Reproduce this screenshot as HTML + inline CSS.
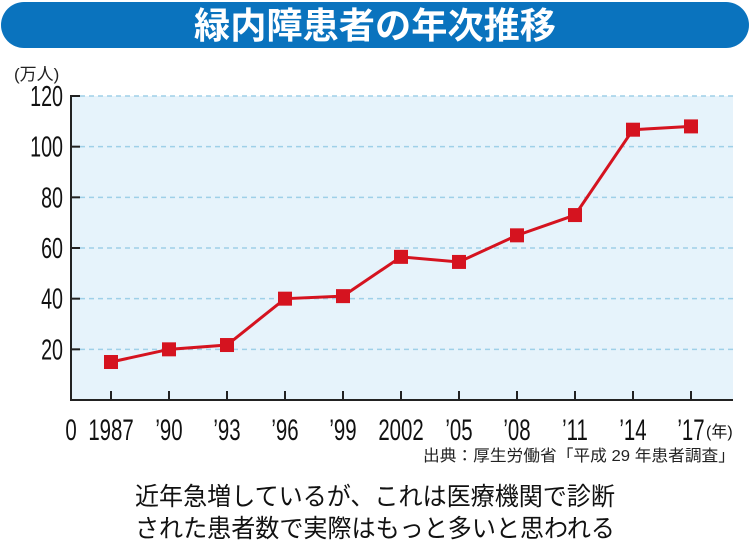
<!DOCTYPE html>
<html><head><meta charset="utf-8"><style>
body{margin:0;background:#fff;}
svg{display:block;font-family:"Liberation Sans","Noto Sans CJK JP",sans-serif;}
</style></head><body>
<svg id="c" width="750" height="543" viewBox="0 0 750 543" xmlns="http://www.w3.org/2000/svg">
<rect x="1" y="2" width="748" height="46" rx="23" fill="#0a73be"/>
<text x="375" y="38" text-anchor="middle" font-size="36" font-weight="bold" fill="#fff" textLength="362" lengthAdjust="spacingAndGlyphs">緑内障患者の年次推移</text>
<text x="14" y="80" font-size="17" fill="#222">(万人)</text>
<rect x="71" y="96" width="662" height="304" fill="#e6f3fb"/>
<g id="grid"></g><g id="axes"></g><g id="line"></g>
<text x="735" y="461" text-anchor="end" font-size="16" fill="#222" textLength="312" lengthAdjust="spacingAndGlyphs">出典：厚生労働省「平成 29 年患者調査」</text>
<text x="375" y="505" text-anchor="middle" font-size="25" fill="#111" textLength="480" lengthAdjust="spacingAndGlyphs">近年急増しているが、これは医療機関で診断</text>
<text x="375" y="537" text-anchor="middle" font-size="25" fill="#111" textLength="480" lengthAdjust="spacingAndGlyphs">された患者数で実際はもっと多いと思われる</text>
</svg>
<script>
const categories=["1987","’90","’93","’96","’99","2002","’05","’08","’11","’14","’17"];
const values=[15,20,21.7,40,41,56.5,54.5,65,73,106.7,108];
const yTicks=[20,40,60,80,100,120];
const NS="http://www.w3.org/2000/svg";
const x0=111,dx=58,yBase=400,yTop=96,yMax=120;
function xs(i){return x0+i*dx;}
function ys(v){return yBase-(v/yMax)*(yBase-yTop);}
function mk(t,a,p){const e=document.createElementNS(NS,t);for(const k in a)e.setAttribute(k,a[k]);p.appendChild(e);return e;}
const grid=document.getElementById('grid'),axes=document.getElementById('axes'),line=document.getElementById('line');
yTicks.forEach(v=>{
const g=mk('line',{x1:71,x2:733,y1:ys(v),y2:ys(v),stroke:'#9fd0e8','stroke-width':1.5,'stroke-dasharray':'5,4'},grid);


const t=mk('line',{x1:71,x2:80,y1:ys(v),y2:ys(v),stroke:'#222','stroke-width':2},axes);


const l=mk('text',{x:0,y:0,'text-anchor':'end','font-size':29,fill:'#111',transform:`translate(63,${ys(v)+10}) scale(0.68,1)`},axes);
l.textContent=v;


});
const ya=mk('polyline',{points:`80,96 71,96 71,400 733,400`,fill:'none',stroke:'#222','stroke-width':2},axes);


const z=mk('text',{x:0,y:0,'text-anchor':'middle','font-size':30,fill:'#111',transform:`translate(71,440) scale(0.68,1)`},axes);
z.textContent='0';


categories.forEach((c,i)=>{
const t=mk('line',{x1:xs(i),x2:xs(i),y1:391,y2:400,stroke:'#222','stroke-width':2},axes);


const l=mk('text',{x:0,y:0,'text-anchor':'middle','font-size':30,fill:'#111',transform:`translate(${xs(i)},440) scale(0.68,1)`},axes);
l.textContent=c;


});
const yr=mk('text',{x:706,y:437,'font-size':16,fill:'#111'},axes);
yr.textContent='(年)';


const pl=mk('polyline',{points:values.map((v,i)=>xs(i)+','+ys(v)).join(' '),fill:'none',stroke:'#d5131f','stroke-width':3},line);


values.forEach((v,i)=>{
const r=mk('rect',{x:xs(i)-7,y:ys(v)-7,width:14,height:14,fill:'#d5131f'},line);


});
</script>
</body></html>
